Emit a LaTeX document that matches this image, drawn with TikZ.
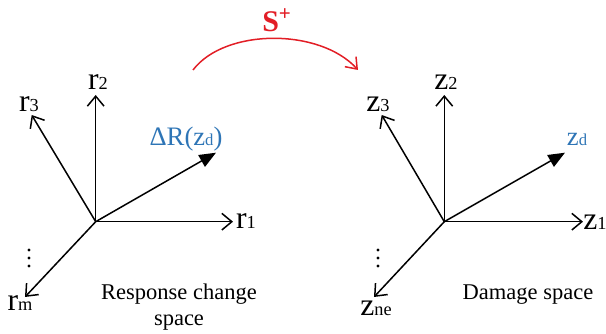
\documentclass[tikz,border=0pt]{standalone}
\usepackage{fontspec}
\setmainfont{Liberation Serif}
\usepackage{tikz}
\usetikzlibrary{arrows.meta}
\definecolor{vecblue}{RGB}{46,117,182}
\definecolor{mapred}{RGB}{226,30,38}
\newcommand{\lowsub}[1]{{\fontsize{11}{11}\selectfont #1}}
\newcommand{\bluesub}[1]{{\fontsize{10}{10}\selectfont #1}}

\begin{document}
\begin{tikzpicture}[
        x=0.6pt, y=0.6pt,
        axis/.style={-{Straight Barb[length=6pt, width=10pt]}, line width=0.9pt},
        vec/.style={-{Triangle[length=10pt, width=8pt]}, line width=0.9pt},
        axlabel/.style={inner sep=0pt, font=\fontsize{19}{19}\selectfont},
        veclabel/.style={inner sep=0pt, text=vecblue, font=\fontsize{16}{16}\selectfont},
        caption/.style={inner sep=0pt, align=center, font=\fontsize{13.5}{16}\selectfont}
    ]
    \useasboundingbox (0,0) rectangle (606,334);
    % response change space
    \coordinate (ro) at (95.7,112.3);
    \coordinate (r1) at (233,112.3);
    \coordinate (r2) at (95.7,239);
    \coordinate (r3) at (31.7,219);
    \coordinate (rm) at (25,37);
    \coordinate (dr) at (216,181.3);
    \draw[axis] (ro) -- (r1);
    \draw[axis] (ro) -- (r2);
    \draw[axis] (ro) -- (r3);
    \draw[axis] (ro) -- (rm);
    \draw[vec] (ro) -- (dr);
    \node[axlabel] (lr1) at (246,113) {r\lowsub{1}};
    \node[axlabel] (lr2) at (98,252) {r\lowsub{2}};
    \node[axlabel] (lr3) at (29,230) {r\lowsub{3}};
    \node[axlabel] (lrm) at (20,31) {r\lowsub{m}};
    \coordinate (rdots) at (29,76);
    \foreach \dy in {-8,0,8} \fill (rdots) ++(0,\dy) circle (1.7);
    \node[veclabel] (ldr) at (186,195) {ΔR(z\bluesub{d})};
    \node[caption] (rcap) at (179,27) {Response change\\space};
    % damage space
    \coordinate (zo) at (444.3,112.3);
    \coordinate (z1) at (583,112.3);
    \coordinate (z2) at (444.3,239);
    \coordinate (z3) at (381.7,219);
    \coordinate (zne) at (374,37);
    \coordinate (zd) at (565,181.3);
    \draw[axis] (zo) -- (z1);
    \draw[axis] (zo) -- (z2);
    \draw[axis] (zo) -- (z3);
    \draw[axis] (zo) -- (zne);
    \draw[vec] (zo) -- (zd);
    \node[axlabel] (lz1) at (595,112) {z\lowsub{1}};
    \node[axlabel] (lz2) at (446,252) {z\lowsub{2}};
    \node[axlabel] (lz3) at (378,230) {z\lowsub{3}};
    \node[axlabel] (lzne) at (376,26) {z\lowsub{ne}};
    \coordinate (zdots) at (378,76);
    \foreach \dy in {-8,0,8} \fill (zdots) ++(0,\dy) circle (1.7);
    \node[veclabel] (lzd) at (577,195) {z\bluesub{d}};
    \node[caption] (zcap) at (528,39) {Damage space};
    % mapping
    \coordinate (mapa) at (193,264);
    \coordinate (mapb) at (358,264);
    \draw[-{Straight Barb[length=6pt, width=9pt]}, mapred, line width=0.9pt]
        (mapa) .. controls (225,306) and (320,306) .. (mapb);
    \node[inner sep=0pt, text=mapred, font=\fontsize{18}{18}\selectfont\bfseries] (splus) at (277,314) {S\textsuperscript{+}};
\end{tikzpicture}
\end{document}
